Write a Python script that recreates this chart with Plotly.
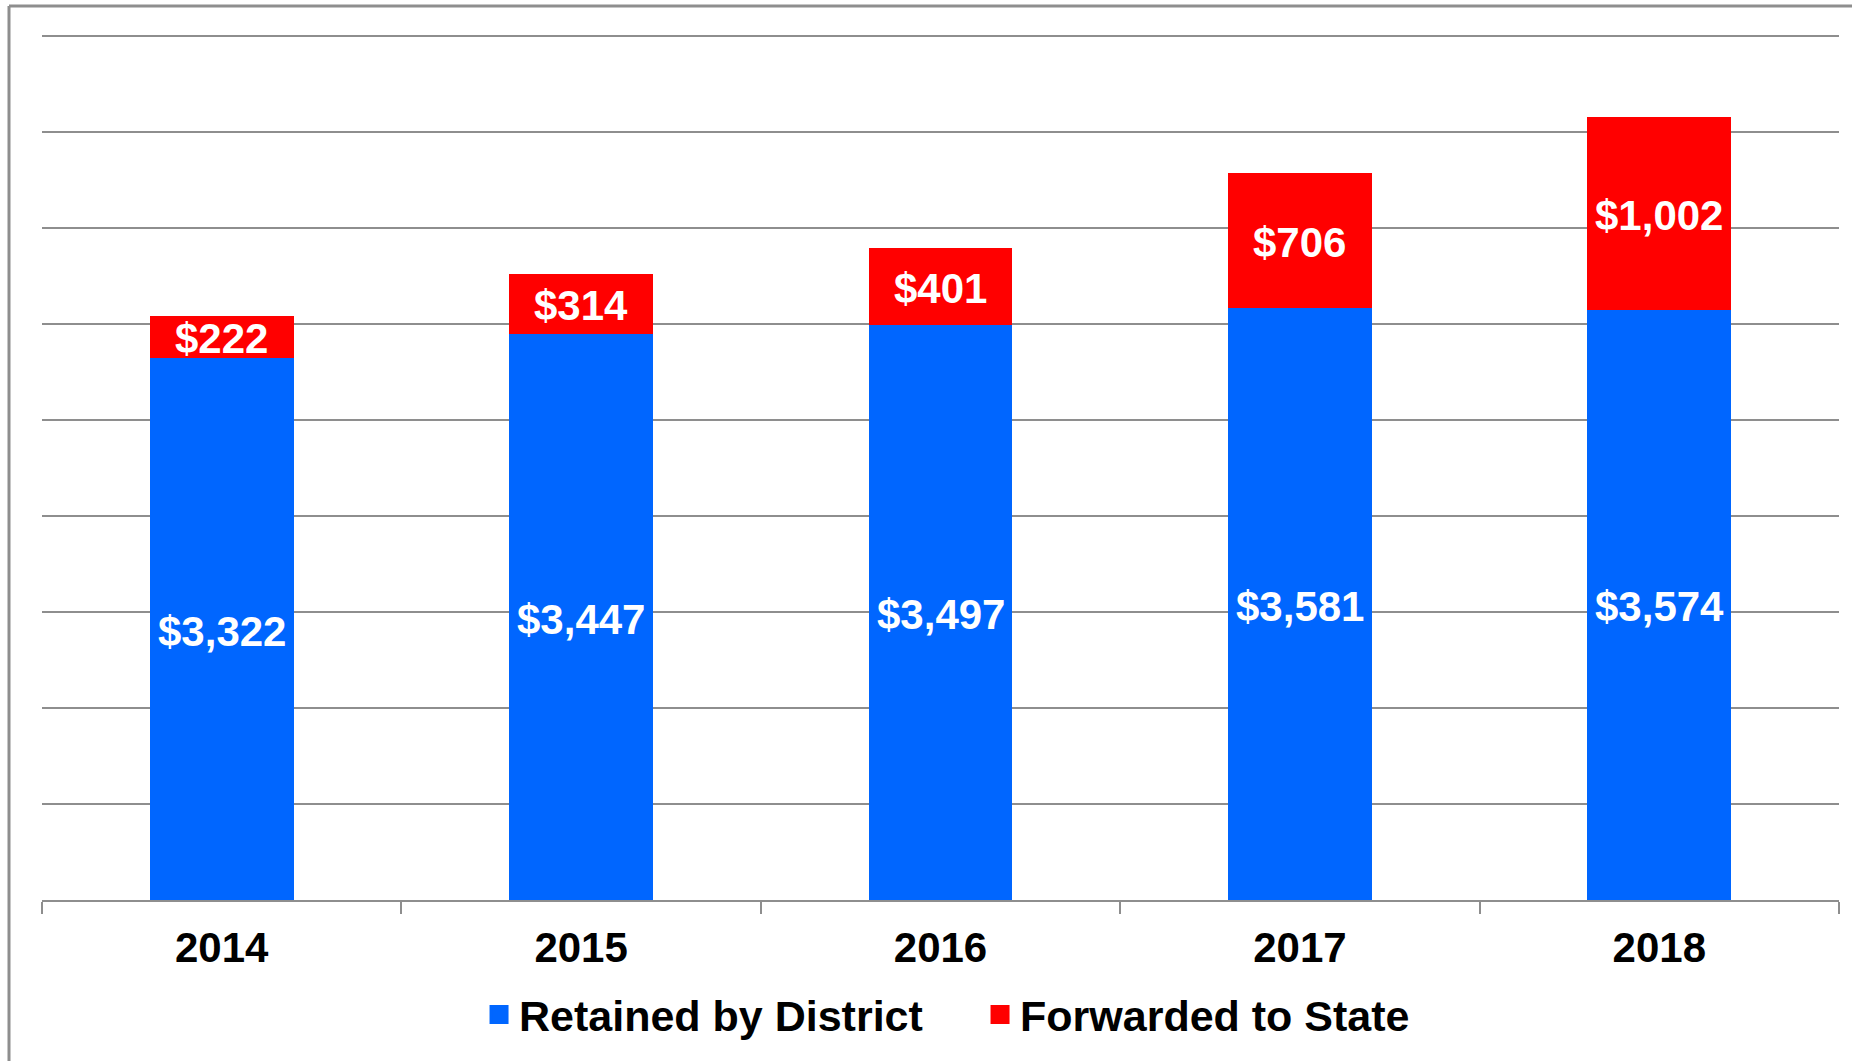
import plotly.graph_objects as go

years = ["2014", "2015", "2016", "2017", "2018"]
retained = [3322, 3447, 3497, 3581, 3574]
forwarded = [222, 314, 401, 706, 1002]
retained_labels = ["$3,322", "$3,447", "$3,497", "$3,581", "$3,574"]
forwarded_labels = ["$222", "$314", "$401", "$706", "$1,002"]

Y_MIN, Y_TOP_GRID, Y_STEP = 500, 5000, 500

BLUE = "#0066FF"
RED = "#FF0000"
GRID = "#8E8E8E"
FONT = "Liberation Sans, Arial, sans-serif"

W, H = 1852, 1061
GRID_TOP_PX, BASE_PX = 36, 903
L, R, T, B = 42, 13, 16, H - BASE_PX

px_per_unit = (BASE_PX - GRID_TOP_PX) / (Y_TOP_GRID - Y_MIN)
plot_h = H - T - B
Y_MAX = Y_MIN + plot_h / px_per_unit

fig = go.Figure()
fig.add_trace(go.Bar(x=years, y=retained, marker=dict(color=BLUE, line=dict(width=0)),
                     name="Retained by District", showlegend=False, hoverinfo="y"))
fig.add_trace(go.Bar(x=years, y=forwarded, marker=dict(color=RED, line=dict(width=0)),
                     name="Forwarded to State", showlegend=False, hoverinfo="y"))

# legend entries
fig.add_trace(go.Scatter(x=[years[0]], y=[None], mode="markers", name="Retained by District",
                         marker=dict(symbol="square", size=16, color=BLUE,
                                     line=dict(color=BLUE, width=3))))
fig.add_trace(go.Scatter(x=[years[0]], y=[None], mode="markers", name="Forwarded to State",
                         marker=dict(symbol="square", size=16, color=RED,
                                     line=dict(color=RED, width=3))))

# value labels, centred in the visible part of each segment
annotations = []
label_font = dict(family=FONT, size=42, color="white", weight="bold")
for i, (r, f, rl, fl) in enumerate(zip(retained, forwarded, retained_labels, forwarded_labels)):
    annotations.append(dict(x=i, y=(max(Y_MIN, 0) + r) / 2, xref="x", yref="y", text=rl,
                            showarrow=False, font=label_font, yshift=-2))
    annotations.append(dict(x=i, y=r + f / 2, xref="x", yref="y", text=fl,
                            showarrow=False, font=label_font, yshift=-2))

plot_w = W - L - R
fx0 = (9 - L) / plot_w
fy_top = 1 + (T - 6) / plot_h
fy_bot = -(B + 5) / plot_h
fx1 = 1 + (R + 5) / plot_w

fig.update_layout(
    width=W, height=H,
    margin=dict(l=L, r=R, t=T, b=B),
    paper_bgcolor="white", plot_bgcolor="white",
    barmode="stack", bargap=0.6,
    font=dict(family=FONT, color="black"),
    showlegend=True,
    legend=dict(orientation="h", x=0.522, xanchor="center", y=-115 / plot_h, yanchor="middle",
                font=dict(family=FONT, size=43, color="black", weight="bold"),
                itemsizing="trace", traceorder="normal", bgcolor="rgba(0,0,0,0)",
                entrywidth=456, entrywidthmode="pixels"),
    xaxis=dict(type="category", categoryorder="array", categoryarray=years,
               range=[-0.5, len(years) - 0.5], showline=True, linecolor=GRID, linewidth=2,
               ticks="outside", tickson="boundaries", ticklen=12, tickcolor=GRID, tickwidth=2,
               tickfont=dict(family=FONT, size=42, color="black", weight="bold"),
               ticklabelstandoff=10, tickangle=0, showgrid=False, fixedrange=True),
    yaxis=dict(range=[Y_MIN, Y_MAX], dtick=Y_STEP, tick0=0, showticklabels=False,
               showgrid=True, gridcolor=GRID, gridwidth=2, zeroline=False,
               showline=False, ticks="", fixedrange=True),
    annotations=annotations,
    shapes=[
        dict(type="line", xref="paper", yref="paper", x0=fx0, x1=fx0, y0=fy_bot, y1=fy_top,
             line=dict(color=GRID, width=3)),
        dict(type="line", xref="paper", yref="paper", x0=fx0, x1=fx1, y0=fy_top, y1=fy_top,
             line=dict(color=GRID, width=3)),
    ],
)

fig.write_html("out.html", config={"displayModeBar": False},
               post_script="document.body.style.margin='0';")
